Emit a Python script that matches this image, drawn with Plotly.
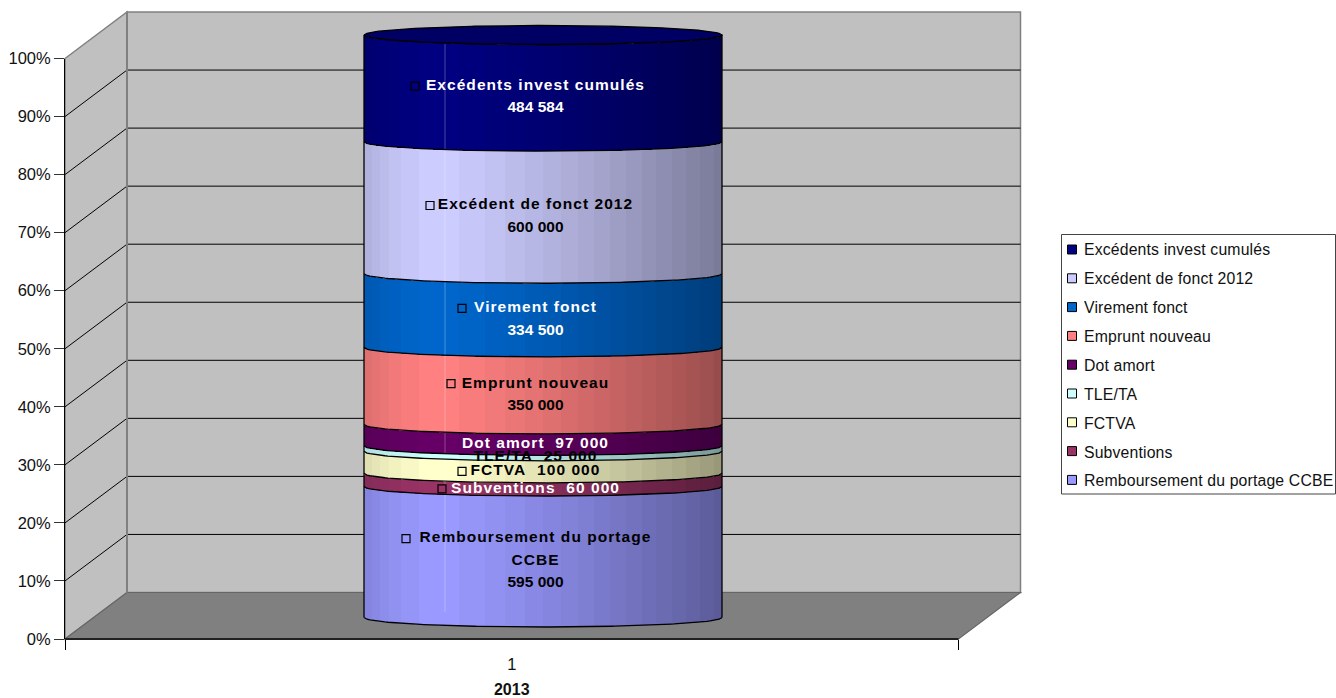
import math
import plotly.graph_objects as go

# ---------- data ----------
series_names = ["Remboursement du portage CCBE", "Subventions", "FCTVA", "TLE/TA", "Dot amort",
                "Emprunt nouveau", "Virement fonct", "Excédent de fonct 2012", "Excédents invest cumulés"]
series_values = [595000, 60000, 100000, 25000, 97000, 350000, 334500, 600000, 484584]
label_titles = [["Remboursement du portage", "CCBE"], ["Subventions"], ["FCTVA"], ["TLE/TA"], ["Dot amort"],
                ["Emprunt nouveau"], ["Virement fonct"], ["Excédent de fonct 2012"], ["Excédents invest cumulés"]]
inline_value = [False, True, True, True, True, False, False, False, False]
series_colors = [(153, 153, 255), (153, 51, 102), (255, 255, 204), (204, 255, 255), (102, 0, 102),
                 (255, 128, 128), (0, 102, 204), (204, 204, 255), (0, 0, 128)]
label_colors = ["#000", "#fff", "#000", "#000", "#fff", "#000", "#fff", "#000", "#fff"]
category_labels = ["1"]
axis_title = "2013"

# ---------- layout constants (pixels in the 1336x698 page) ----------
W, H = 1336, 698
X0, X1 = 65.0, 958.5         # front plane horizontal extent
Y0, Y100 = 639.0, 58.5       # front plane 0 % and 100 %
DX, DY = 62.0, -46.5         # depth offset of the back wall
CYL_Y0, CYL_Y100 = 617.5, 35.0
CYL_CX, CYL_R = 543.0, 179.0
SAG_PX = 9.5
LABEL_DX = -7.5
LINE_PX = 22.5
# key-square offsets from the cylinder centre, None = no visible key
KEY_DX = [-137, -101, -81, None, None, -92, -81, -113, -128]
FONT = "Liberation Sans, Arial, sans-serif"
LABEL_SIZE = 15.5
TICK_SIZE = 16.5
LEGEND_SIZE = 15.8


def fx(p):
    return p / W


def fy(p):
    return 1 - p / H


pct_px = (CYL_Y0 - CYL_Y100) / 100.0
sag = SAG_PX / pct_px
total = sum(series_values)
shares = [v / total * 100 for v in series_values]
cum = [0.0]
for s in shares:
    cum.append(cum[-1] + s)

# overlay axes: cylinder plane, same scale as the front axis but shifted in depth
PAD = 4.0
x_span = X1 - X0
x2_left = CYL_CX - x_span / 2
half = CYL_R / x_span


def shade(t):
    t0 = 0.22
    if t < t0:
        f = 1 - 0.14 * ((t0 - t) / t0) ** 2
    else:
        f = 1 - 0.40 * ((t - t0) / (1 - t0)) ** 1.25
    return round(f * 40) / 40  # coarse bands, as in the facetted source


N = 180
us = [(i + 0.5) / N * 2 - 1 for i in range(N)]
xs = [1 + u * half for u in us]
sags = [sag * math.sqrt(1 - u * u) for u in us]
strip_w = 2 * half / N * 1.15

fig = go.Figure()

# legend entries (native legend text; squares are drawn in the box below)
for name in reversed(series_names):
    fig.add_trace(go.Scatter(x=[None], y=[None], mode="markers", name=name, legendgroup=name,
                             marker=dict(symbol="square", size=9, color="rgba(0,0,0,0)"),
                             hoverinfo="skip"))

# cylinder bands
for i, (name, val) in enumerate(zip(series_names, shares)):
    col = series_colors[i]
    colors = []
    for u in us:
        f = shade((u + 1) / 2)
        colors.append("rgb(%d,%d,%d)" % tuple(c * f for c in col))
    fig.add_trace(go.Bar(x=xs, y=[val] * N, base=[cum[i] - s for s in sags], width=strip_w,
                         marker=dict(color=colors, line=dict(width=0)), xaxis="x2", yaxis="y2",
                         showlegend=False, hoverinfo="skip"))

# faint facet seam
fig.add_trace(go.Scatter(x=[1 + (445 - CYL_CX) / x_span] * 2, y=[1.0, 98.5], mode="lines",
                         line=dict(color="rgba(255,255,255,0.28)", width=1),
                         xaxis="x2", yaxis="y2", showlegend=False, hoverinfo="skip"))

# outlines
M = 121
cu = [j / (M - 1) * 2 - 1 for j in range(M)]
cx = [1 + u * half for u in cu]
line = dict(color="#000", width=1.3)
for c in cum:
    fig.add_trace(go.Scatter(x=cx, y=[c - sag * math.sqrt(max(0, 1 - u * u)) for u in cu], mode="lines",
                             line=line, xaxis="x2", yaxis="y2", showlegend=False, hoverinfo="skip"))
for u in (-1, 1):
    fig.add_trace(go.Scatter(x=[1 + u * half] * 2, y=[0, 100], mode="lines", line=line,
                             xaxis="x2", yaxis="y2", showlegend=False, hoverinfo="skip"))
# top cap
capx = cx + cx[::-1]
capy = [100 - sag * math.sqrt(max(0, 1 - u * u)) for u in cu] + [100 + sag * math.sqrt(max(0, 1 - u * u)) for u in cu[::-1]]
fig.add_trace(go.Scatter(x=capx, y=capy, mode="lines", fill="toself", fillcolor="rgb(0,0,100)", line=line,
                         xaxis="x2", yaxis="y2", showlegend=False, hoverinfo="skip"))

# labels
for i, (name, val) in enumerate(zip(series_names, series_values)):
    value_text = f"{val:,}".replace(",", " ")
    if inline_value[i]:
        lines = [label_titles[i][0] + "\u00a0\u00a0" + value_text]
    else:
        lines = label_titles[i] + [value_text]
    mid = (cum[i] + cum[i + 1]) / 2 - sag * 0.95
    n = len(lines)
    ly = [mid + ((n - 1) / 2 - k) * LINE_PX / pct_px for k in range(n)]
    fig.add_trace(go.Scatter(x=[1 + LABEL_DX / x_span] * n, y=ly, mode="text", text=lines, textposition="middle center",
                             textfont=dict(family=FONT, size=LABEL_SIZE, color=label_colors[i],
                                           weight="bold"),
                             xaxis="x2", yaxis="y2", showlegend=False, hoverinfo="skip"))
    if KEY_DX[i] is not None:
        fig.add_trace(go.Scatter(x=[1 + KEY_DX[i] / x_span], y=[ly[0]], mode="markers",
                                 marker=dict(symbol="square", size=8,
                                             color="rgb(%d,%d,%d)" % series_colors[i],
                                             line=dict(color="#000", width=1.2)),
                                 xaxis="x2", yaxis="y2", showlegend=False, hoverinfo="skip"))

# ---------- walls, floor, grid ----------
shapes = []


def poly(pts, fill, edge=None, w=1, layer="below"):
    path = "M " + " L ".join(f"{fx(a):.5f},{fy(b):.5f}" for a, b in pts) + " Z"
    shapes.append(dict(type="path", xref="paper", yref="paper", path=path, fillcolor=fill, layer=layer,
                       line=dict(color=edge or "rgba(0,0,0,0)", width=w)))


def seg(a, b, c, d, color, w=1, layer="below"):
    shapes.append(dict(type="line", xref="paper", yref="paper", x0=fx(a), y0=fy(b), x1=fx(c), y1=fy(d),
                       line=dict(color=color, width=w), layer=layer))


BX0, BX1 = X0 + DX, X1 + DX
poly([(BX0, Y100 + DY), (BX1, Y100 + DY), (BX1, Y0 + DY), (BX0, Y0 + DY)], "#c0c0c0", "#808080", 1.5)
poly([(X0, Y100), (BX0, Y100 + DY), (BX0, Y0 + DY), (X0, Y0)], "#c0c0c0", "#808080", 1.5)
poly([(X0, Y0), (BX0, Y0 + DY), (BX1, Y0 + DY), (X1, Y0)], "#808080", "#666666", 1.2)
for p in range(10, 100, 10):
    yy = Y0 + (Y100 - Y0) * p / 100
    seg(X0, yy, BX0, yy + DY, "#000", 1)
    seg(BX0, yy + DY, BX1, yy + DY, "#000", 1)
seg(BX0, Y100 + DY, BX0, Y0 + DY, "#808080", 2)
seg(X0, Y0, X1, Y0, "#222222", 2, "above")

# legend box and key squares
LX0, LX1, LY0, LY1 = 1061.5, 1335.5, 234.5, 494
shapes.append(dict(type="rect", xref="paper", yref="paper", x0=fx(LX0), x1=fx(LX1), y0=fy(LY0), y1=fy(LY1),
                   line=dict(color="#444444", width=1), fillcolor="#fff", layer="below"))
for k, name in enumerate(reversed(series_names)):
    c = series_colors[len(series_names) - 1 - k]
    yc = 249.5 + k * 28.8
    shapes.append(dict(type="rect", xref="paper", yref="paper", x0=fx(1067.5), x1=fx(1076.5),
                       y0=fy(yc - 4.5), y1=fy(yc + 4.5), fillcolor="rgb(%d,%d,%d)" % c,
                       line=dict(color="#000", width=1), layer="above"))

fig.update_layout(
    width=W, height=H, margin=dict(l=0, r=0, t=0, b=0), autosize=False,
    paper_bgcolor="#fff", plot_bgcolor="rgba(0,0,0,0)", barmode="overlay", bargap=0,
    font=dict(family=FONT, size=TICK_SIZE, color="#111"),
    shapes=shapes,
    legend=dict(x=fx(1044), y=fy(232), xanchor="left", yanchor="top", bgcolor="rgba(0,0,0,0)",
                borderwidth=0, traceorder="grouped", tracegroupgap=5.4,
                font=dict(family=FONT, size=LEGEND_SIZE, color="#111")),
    xaxis=dict(domain=[fx(X0), fx(X1)], range=[0.5, 1.5], tickmode="array", tickvals=[1], ticktext=category_labels,
               tickfont=dict(family=FONT, size=TICK_SIZE, color="#111"),
               ticks="outside", ticklen=10, tickcolor="rgba(0,0,0,0)", showline=False, showgrid=False, zeroline=False,
               minor=dict(tickmode="array", tickvals=[0.5, 1.5], ticks="outside", ticklen=10, tickcolor="#000", showgrid=False),
               title=dict(text="<b>" + axis_title + "</b>", font=dict(family=FONT, size=16, color="#111"), standoff=14),
               anchor="y", automargin=False),
    yaxis=dict(domain=[fy(Y0), fy(Y100)], range=[0, 100], tickmode="linear", tick0=0, dtick=10, ticksuffix="%",
               tickfont=dict(family=FONT, size=TICK_SIZE, color="#111"),
               ticks="outside", ticklen=10, tickcolor="#333", showline=True, linecolor="#000", linewidth=1,
               showgrid=False, zeroline=False, anchor="x", automargin=False),
    xaxis2=dict(domain=[fx(x2_left), fx(x2_left + x_span)], range=[0.5, 1.5], visible=False, anchor="y2"),
    yaxis2=dict(domain=[fy(CYL_Y0 + PAD * pct_px), fy(CYL_Y100 - PAD * pct_px)], range=[-PAD, 100 + PAD],
                visible=False, anchor="x2"),
)

POST = """
document.body.style.margin='0';document.body.style.overflow='hidden';
document.querySelectorAll('.textpoint text').forEach(function(t){
  if(/[A-Za-z]/.test(t.textContent)){t.style.letterSpacing='1.05px';}
});
document.querySelectorAll('.legendtext').forEach(function(t){t.style.letterSpacing='0.15px';});
"""
fig.write_html("out.html", post_script=POST, config=dict(displayModeBar=False))
